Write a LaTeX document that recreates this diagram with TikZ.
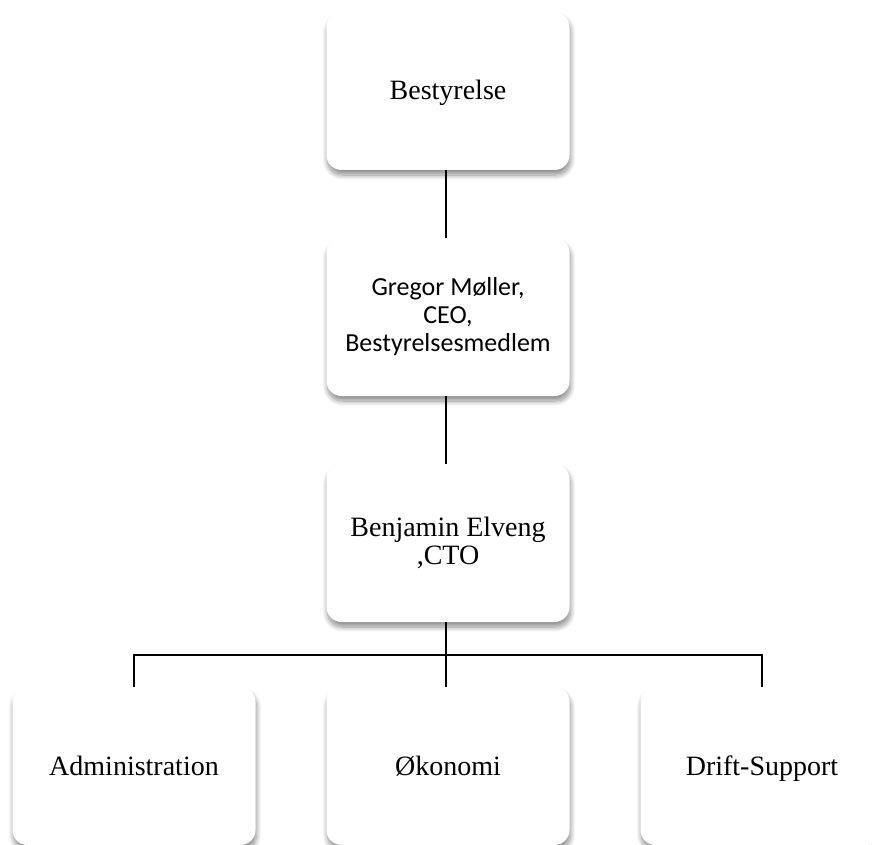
\documentclass[tikz,border=0pt]{standalone}
\usepackage{fontspec}
\setmainfont{Liberation Serif}
\newfontfamily\boxsans{Carlito}
\usetikzlibrary{positioning}
\usetikzlibrary{shadows.blur}

\tikzset{
  orgbox/.style={rounded corners=15pt, fill=white, minimum width=243pt,
    minimum height=158pt, align=center, inner sep=0pt,
    blur shadow={shadow xshift=1pt, shadow yshift=-5pt,
      shadow blur radius=5pt, shadow blur steps=10, shadow opacity=45},
    font=\fontsize{28}{28}\selectfont},
  oneline/.style={text height=18pt, text depth=0pt},
  link/.style={line width=2pt, black}
}

\begin{document}
\begin{tikzpicture}[x=1pt,y=-1pt]
            \useasboundingbox (0,0) rectangle (872,845);

            \node[orgbox, oneline] (board) at (448,91) {Bestyrelse};
            \node[orgbox, font=\boxsans\fontsize{26}{28}\selectfont] (ceo) at (448,317)
                {Gregor Møller,\\CEO,\\Bestyrelsesmedlem};
            \node[orgbox] (cto) at (448,543) {Benjamin Elveng\\,CTO};

            \node[orgbox, oneline] (adm) at (134,766) {Administration};
            \node[orgbox, oneline] (oko) at (448,766) {Økonomi};
            \node[orgbox, oneline] (drift) at (762,766) {Drift-Support};

            \coordinate (fork) at (446,655);

            \draw[link] ([xshift=-2pt]board.south) -- ([xshift=-2pt]ceo.north);
            \draw[link] ([xshift=-2pt]ceo.south) -- ([xshift=-2pt]cto.north);
            \draw[link] ([xshift=-2pt]cto.south) -- ([xshift=-2pt]oko.north);
            \draw[link] (fork) -| (adm.north);
            \draw[link] (fork) -| (drift.north);
\end{tikzpicture}
\end{document}
